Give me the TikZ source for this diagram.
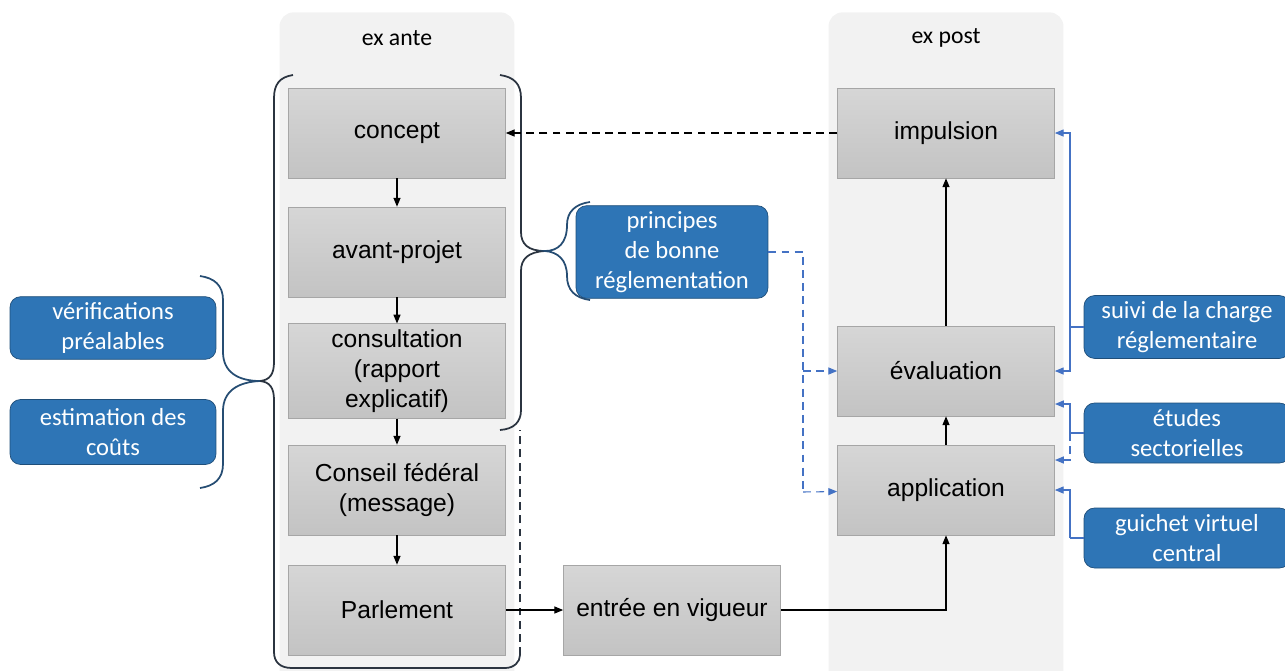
\documentclass[tikz,border=0pt]{standalone}
\usepackage{fontspec}
\setmainfont{Liberation Sans}
\newfontfamily\calibri{Carlito}
\usetikzlibrary{arrows.meta}

\definecolor{colbg}{HTML}{F2F2F2}
\definecolor{graytop}{HTML}{D6D6D6}
\definecolor{graybot}{HTML}{C3C3C3}
\definecolor{boxedge}{HTML}{A6A6A6}
\definecolor{bluefill}{HTML}{2E75B6}
\definecolor{blueedge}{HTML}{1F4E79}
\definecolor{lineblue}{HTML}{4472C4}
\definecolor{braceblk}{HTML}{2B3440}
\definecolor{bracenavy}{HTML}{264D73}

\begin{document}
\begin{tikzpicture}[x=0.02cm, y=-0.02cm,
    stepbox/.style={rectangle, draw=boxedge, top color=graytop, bottom color=graybot,
      minimum width=4.34cm, minimum height=1.8cm, align=center,
      font=\fontsize{14}{17}\selectfont},
    bluebox/.style={rectangle, rounded corners=6pt, draw=blueedge, fill=bluefill,
      text=white, minimum width=4.12cm, minimum height=1.2cm, align=center,
      font=\calibri\fontsize{14}{17}\selectfont},
    column/.style={rectangle, fill=colbg, rounded corners=8pt,
      minimum width=4.7cm, minimum height=13.8cm},
    collabel/.style={font=\calibri\fontsize{13.5}{16}\selectfont},
    flow/.style={-{Triangle[length=5pt,width=4pt]}, line width=0.6pt},
    blueflow/.style={flow, draw=lineblue},
    longdash/.style={dash pattern=on 4.5pt off 3pt},
    braceline/.style={line width=1pt}
  ]
    \useasboundingbox (0,0) rectangle (1285,670);

    % Columns
    \node (exante) [column, anchor=north] at (397,12) {};
    \node (expost) [column, anchor=north] at (946,12) {};
    \node (antelabel) [collabel] at (397,38) {ex ante};
    \node (postlabel) [collabel] at (946,38) {ex post};

    % Braces
    \draw[braceline, draw=braceblk] (293,75) .. controls (280,77) and (274,84) .. (274,98)
      -- (274,362) .. controls (274,374) and (270,380) .. (260,381)
      .. controls (270,382) and (274,388) .. (274,400)
      -- (274,652) .. controls (274,662) and (280,668) .. (292,668)
      -- (505,668) .. controls (514,668) and (520,662) .. (520,655);
    \draw[braceline, draw=braceblk, longdash] (520,655) -- (520,430);
    \draw[braceline, draw=braceblk] (500,75) .. controls (514,77) and (521,84) .. (521,98)
      -- (521,232) .. controls (521,244) and (528,251) .. (545,251)
      .. controls (528,252) and (521,259) .. (521,271)
      -- (521,410) .. controls (521,422) and (514,429) .. (500,430);
    \draw[braceline, draw=bracenavy] (200,276) .. controls (214,278) and (223,285) .. (223,300)
      -- (223,352) .. controls (223,372) and (238,381) .. (260,381)
      .. controls (238,382) and (223,391) .. (223,411)
      -- (223,464) .. controls (223,479) and (214,486) .. (200,488);
    \draw[braceline, draw=bracenavy] (590,202) .. controls (575,204) and (567,212) .. (567,225)
      .. controls (567,243) and (558,251) .. (545,251)
      .. controls (558,252) and (567,260) .. (567,276)
      .. controls (567,290) and (575,298) .. (590,300);

    % Nodes
    \node (concept) [stepbox] at (397,133) {concept};
    \node (avant) [stepbox] at (397,252) {avant-projet};
    \node (consultation) [stepbox] at (397,371) {consultation\\(rapport\\explicatif)};
    \node (conseil) [stepbox] at (397,490) {Conseil fédéral\\(message)};
    \node (parlement) [stepbox] at (397,610) {Parlement};
    \node (entree) [stepbox] at (672,610) {entrée en vigueur};
    \node (impulsion) [stepbox] at (946,133) {impulsion};
    \node (evaluation) [stepbox] at (946,371) {évaluation};
    \node (application) [stepbox] at (946,490) {application};

    \node (verif) [bluebox] at (113,328) {vérifications\\préalables};
    \node (estim) [bluebox, minimum height=1.3cm] at (113,432) {estimation des\\coûts};
    \node (principes) [bluebox, minimum width=3.84cm, minimum height=1.8cm] at (672,252)
      {principes\\de bonne\\réglementation};
    \node (suivi) [bluebox] at (1187,327) {suivi de la charge\\réglementaire};
    \node (etudes) [bluebox] at (1187,433) {études\\sectorielles};
    \node (guichet) [bluebox] at (1187,538) {guichet virtuel\\central};

    \coordinate (pbend) at (803,252);
    \coordinate (pev) at (803,371);
    \coordinate (pap) at (803,492);
    \coordinate (sv) at (1070,327);
    \coordinate (et) at (1070,433);
    \coordinate (gv) at (1070,538);
    \coordinate (evlow) at (1055,404);
    \coordinate (aphigh) at (1055,460);

    % Edges
    \draw[flow] (concept) -- (avant);
    \draw[flow] (avant) -- (consultation);
    \draw[flow] (consultation) -- (conseil);
    \draw[flow] (conseil) -- (parlement);
    \draw[flow] (parlement) -- (entree);
    \draw[flow] (entree) -| (application);
    \draw[flow] (application) -- (evaluation);
    \draw[flow] (evaluation) -- (impulsion);
    \draw[flow, longdash] (impulsion) -- (concept);

    \draw[lineblue, longdash, line width=0.6pt] (principes) -- (pbend) -- (pap);
    \draw[blueflow, longdash] (pev) -- (evaluation);
    \draw[blueflow, longdash] (pap) -- (application);

    \draw[lineblue, line width=0.6pt] (suivi) -- (sv);
    \draw[blueflow] (sv) |- (impulsion);
    \draw[blueflow] (sv) |- (evaluation);
    \draw[lineblue, line width=0.6pt] (etudes) -- (et);
    \draw[blueflow] (et) |- (evlow);
    \draw[blueflow, longdash] (et) |- (aphigh);
    \draw[lineblue, line width=0.6pt] (guichet) -- (gv);
    \draw[blueflow] (gv) |- (application);

\end{tikzpicture}
\end{document}
